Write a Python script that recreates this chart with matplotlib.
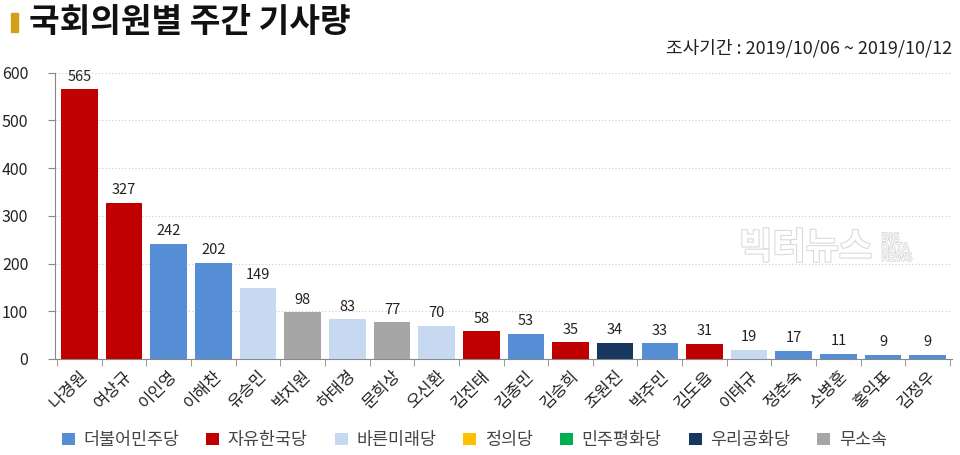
import matplotlib
matplotlib.use('Agg')
import matplotlib.pyplot as plt
import matplotlib.patheffects as pe
from matplotlib.patches import Patch, Rectangle

plt.rcParams['font.family'] = ['Noto Sans CJK KR', 'DejaVu Sans']

names = ['나경원', '여상규', '이인영', '이해찬', '유승민', '박지원', '하태경', '문희상', '오신환', '김진태',
         '김종민', '김승희', '조원진', '박주민', '김도읍', '이태규', '정춘숙', '소병훈', '홍익표', '김정우']
counts = [565, 327, 242, 202, 149, 98, 83, 77, 70, 58, 53, 35, 34, 33, 31, 19, 17, 11, 9, 9]
parties = ['자유한국당', '자유한국당', '더불어민주당', '더불어민주당', '바른미래당', '무소속', '바른미래당', '무소속',
           '바른미래당', '자유한국당', '더불어민주당', '자유한국당', '우리공화당', '더불어민주당', '자유한국당',
           '바른미래당', '더불어민주당', '더불어민주당', '더불어민주당', '더불어민주당']
party_order = ['더불어민주당', '자유한국당', '바른미래당', '정의당', '민주평화당', '우리공화당', '무소속']
party_colors = {'더불어민주당': '#558ED5', '자유한국당': '#C00000', '바른미래당': '#C6D9F1',
                '정의당': '#FFC000', '민주평화당': '#00B050', '우리공화당': '#17375E', '무소속': '#A6A6A6'}

fig = plt.figure(figsize=(9.6, 4.55), dpi=100)
ax = fig.add_axes([0.057, 0.211, 0.935, 0.629])

xs = range(len(names))
bars = ax.bar(xs, counts, width=0.82, color=[party_colors[p] for p in parties], zorder=3)
for x, v in zip(xs, counts):
    ax.text(x, v + 12, str(v), ha='center', va='bottom', fontsize=10.5, color='#222222')

ax.set_ylim(0, 600)
ax.set_xlim(-0.55, len(names) - 0.45)
ax.set_yticks(range(0, 601, 100))
ax.yaxis.grid(True, linestyle=(0, (1, 2)), color='#cccccc', linewidth=0.8, zorder=0)
ax.tick_params(axis='y', labelsize=11.5, length=5, color='#888888', labelcolor='#222222', pad=14)
ax.set_xticks(list(xs))
ax.set_xticklabels(names, rotation=45, ha='right', rotation_mode='anchor', fontsize=12, color='#222222')
ax.set_xticks([i - 0.5 for i in range(len(names) + 1)], minor=True)
ax.tick_params(axis='x', which='major', length=0, pad=6)
ax.tick_params(axis='x', which='minor', length=5, color='#888888')
for s in ['top', 'right']:
    ax.spines[s].set_visible(False)
ax.spines['left'].set_color('#888888')
ax.spines['bottom'].set_color('#888888')

# title
fig.patches.append(Rectangle((0.011, 0.93), 0.008, 0.042, transform=fig.transFigure,
                             color='#D4A017', zorder=5))
fig.text(0.03, 0.95, '국회의원별 주간 기사량', fontsize=24, fontweight='bold', va='center', color='#111111')
fig.text(0.992, 0.895, '조사기간 : 2019/10/06 ~ 2019/10/12', fontsize=13, ha='right', va='center', color='#222222')

# watermark
fig.text(0.77, 0.455, '빅터뉴스', fontsize=26, color='white', ha='left', va='center', fontweight='bold',
         path_effects=[pe.withStroke(linewidth=1.5, foreground='#d8d8d8')], zorder=10)
fig.text(0.918, 0.455, 'BIG\nDATA\nNEWS', fontsize=8, color='white', ha='left', va='center', linespacing=1.0,
         path_effects=[pe.withStroke(linewidth=1.2, foreground='#d8d8d8')], zorder=10)

handles = [Patch(facecolor=party_colors[p], label=p) for p in party_order]
fig.legend(handles=handles, loc='center', bbox_to_anchor=(0.494, 0.033), ncol=7, frameon=False,
           fontsize=12.5, handlelength=0.75, handleheight=0.75, columnspacing=1.55, handletextpad=0.5,
           labelcolor='#444444')

fig.savefig('out.png', dpi=100)
